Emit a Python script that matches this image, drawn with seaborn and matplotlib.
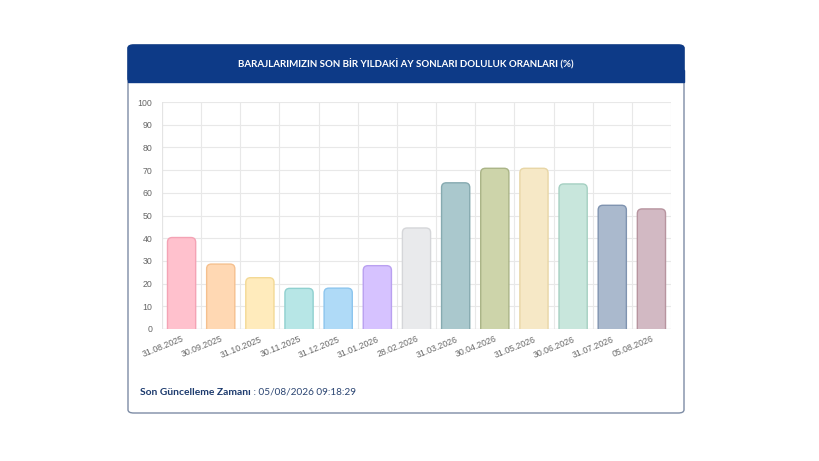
import numpy as np
import pandas as pd
import matplotlib.pyplot as plt
import seaborn as sns
from matplotlib.patches import FancyBboxPatch, Rectangle

# veriler
dates = ['31.08.2025', '30.09.2025', '31.10.2025', '30.11.2025', '31.12.2025',
         '31.01.2026', '28.02.2026', '31.03.2026', '30.04.2026', '31.05.2026',
         '30.06.2026', '31.07.2026', '05.08.2026']
rates = [40.3, 28.6, 22.6, 17.9, 18.0, 27.9, 44.5, 64.4, 70.8, 70.8, 63.9, 54.5, 52.9]

fill_colors = ['#ffc1cd', '#ffd8b3', '#ffebbc', '#b7e6e6', '#afdaf7', '#d6c2ff', '#e9eaec',
               '#aac8cd', '#cdd4aa', '#f6e8c6', '#c8e6dc', '#aab9cd', '#d2b9c3']
edge_colors = ['#f4a3b5', '#f5c08e', '#f3d995', '#8fd0cf', '#8cc5ee', '#b9a0f0', '#d5d6d9',
               '#86aab0', '#aab487', '#e8d6a6', '#a5d0c2', '#7f93b0', '#b7949f']

title = 'BARAJLARIMIZIN SON BİR YILDAKİ AY SONLARI DOLULUK ORANLARI (%)'
footer_bold = 'Son Güncelleme Zamanı'
footer_rest = ' : 05/08/2026 09:18:29'

df = pd.DataFrame({'tarih': dates, 'oran': rates})

sns.set_style('white')
plt.rcParams['font.family'] = ['Liberation Sans', 'DejaVu Sans']

W, H = 820, 461
fig = plt.figure(figsize=(W / 100, H / 100), dpi=100)
fig.patch.set_facecolor('white')

def fx(px):
    return px / W

def fy(py):
    return 1 - py / H

# kart
card = FancyBboxPatch((fx(128), fy(413)), fx(684) - fx(128), fy(45) - fy(413),
                      boxstyle='round,pad=0,rounding_size=0.007',
                      transform=fig.transFigure, facecolor='white',
                      edgecolor='#7d8ca5', linewidth=1.0, zorder=-2)
fig.patches.append(card)
header = FancyBboxPatch((fx(128), fy(82)), fx(684) - fx(128), fy(45) - fy(82),
                        boxstyle='round,pad=0,rounding_size=0.007',
                        transform=fig.transFigure, facecolor='#0d3a87',
                        edgecolor='#0d3a87', linewidth=1.0, zorder=-1)
fig.patches.append(header)
fig.patches.append(Rectangle((fx(128), fy(82)), fx(684) - fx(128), fy(70) - fy(82),
                             transform=fig.transFigure, facecolor='#0d3a87',
                             edgecolor='#0d3a87', linewidth=1.0, zorder=-1))
fig.text(fx(406), fy(64), title, color='white', fontsize=7, fontweight='bold',
         ha='center', va='center', family=['Lato', 'DejaVu Sans'], zorder=3)

# grafik
ax = fig.add_axes([fx(162), fy(329), fx(671) - fx(162), fy(102) - fy(329)])
ax.set_zorder(5)
ax.set_facecolor('none')
sns.barplot(data=df, x='tarih', y='oran', hue='tarih', palette=fill_colors,
            legend=False, width=0.72, ax=ax, zorder=3)

ax.set_ylim(0, 100)
ax.set_xlim(-0.5, len(dates) - 0.5)

# yuvarlak koseli barlar
aspect = (100 / 227) / (len(dates) / 509)
bars = list(ax.patches)
for i, p in enumerate(bars):
    x0, w, h = p.get_x(), p.get_width(), p.get_height()
    rb = FancyBboxPatch((x0, -3), w, h + 3,
                        boxstyle='round,pad=0,rounding_size=0.12',
                        mutation_aspect=aspect,
                        facecolor=fill_colors[i], edgecolor=edge_colors[i],
                        linewidth=1.0, zorder=3)
    p.remove()
    ax.add_patch(rb)

ax.set_yticks(np.arange(0, 101, 10))
ax.set_xticks(np.arange(-0.5, len(dates), 1), minor=True)
ax.grid(False)
ax.grid(True, which='major', axis='y', color='#e8e8e8', linewidth=0.8, zorder=0)
ax.grid(True, which='minor', axis='x', color='#e8e8e8', linewidth=0.8, zorder=0)
for s in ax.spines.values():
    s.set_visible(False)
ax.axhline(0, color='#dcdcdc', linewidth=0.9, zorder=2)
ax.axvline(-0.5, color='#e4e4e4', linewidth=0.8, zorder=2)

ax.tick_params(axis='y', which='major', length=4, color='#e8e8e8', labelsize=6.3,
               labelcolor='#666666', pad=3)
ax.tick_params(axis='x', which='major', length=0, labelsize=6.3, labelcolor='#666666', pad=4)
ax.tick_params(axis='x', which='minor', length=4, color='#e8e8e8')
ax.set_xticks(range(len(dates)))
ax.set_xticklabels(dates, rotation=22, ha='right', rotation_mode='anchor')
ax.set_xlabel('')
ax.set_ylabel('')

# alt bilgi
t1 = fig.text(fx(140), fy(392), footer_bold, color='#1d3b6e', fontsize=7.4,
              fontweight='bold', ha='left', va='center', family=['Lato', 'DejaVu Sans'])
fig.canvas.draw()
bb = t1.get_window_extent()
fig.text(bb.x1 / W, fy(392), footer_rest, color='#2b4572', fontsize=7.2,
         ha='left', va='center', family=['Lato', 'DejaVu Sans'])

fig.savefig('out.png', dpi=100)
